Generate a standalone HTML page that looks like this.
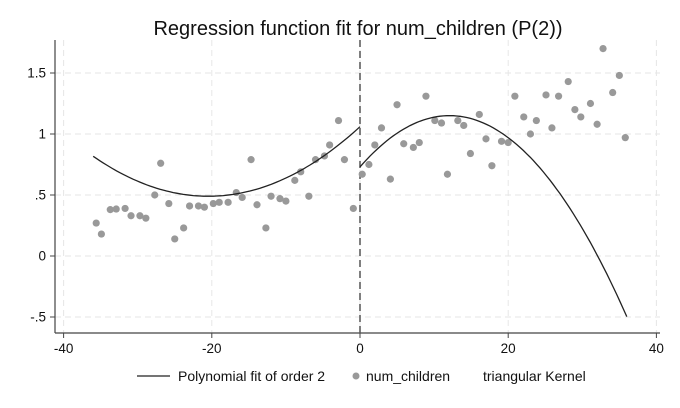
<!DOCTYPE html>
<html><head><meta charset="utf-8"><style>
body{margin:0;background:#fff;}
svg{display:block;font-family:"Liberation Sans",Arial,sans-serif;}
</style></head><body>
<svg id="chart" width="680" height="408" viewBox="0 0 680 408">
<text x="358" y="35" text-anchor="middle" font-size="20" fill="#111">Regression function fit for num_children (P(2))</text>
<g id="grid"></g><g id="axes"></g><g id="pts"></g><g id="fits"></g>
<g>
<line x1="137" y1="376" x2="170" y2="376" stroke="#222" stroke-width="1.2"/>
<text x="178" y="381" font-size="14" fill="#111">Polynomial fit of order 2</text>
<circle cx="356" cy="376" r="3.5" fill="#999"/>
<text x="366" y="381" font-size="14" fill="#111">num_children</text>
<text x="483" y="381" font-size="14" fill="#111">triangular Kernel</text>
</g>
</svg>
<script>
const xs=[-35.6,-34.9,-33.7,-32.9,-31.7,-30.9,-29.7,-28.9,-27.7,-26.9,-25.8,-25,-23.8,-23,-21.8,-21,-19.8,-19,-17.8,-16.7,-15.9,-14.7,-13.9,-12.7,-12,-10.8,-10,-8.8,-8,-6.9,-6,-4.8,-4.1,-2.9,-2.1,-0.9,0.3,1.2,2,2.9,4.1,5,5.9,7.2,8,8.9,10.1,11,11.8,13.2,14,14.9,16.1,17,17.8,19.1,20,20.9,22.1,23,23.8,25.1,25.9,26.8,28.1,29,29.8,31.1,32,32.8,34.1,35,35.8];
const ys=[0.27,0.18,0.38,0.385,0.39,0.33,0.33,0.31,0.5,0.76,0.43,0.14,0.23,0.41,0.41,0.4,0.43,0.44,0.44,0.52,0.48,0.79,0.42,0.23,0.49,0.47,0.45,0.62,0.69,0.49,0.79,0.82,0.91,1.11,0.79,0.39,0.67,0.75,0.91,1.05,0.63,1.24,0.92,0.89,0.93,1.31,1.11,1.09,0.67,1.11,1.07,0.84,1.16,0.96,0.74,0.94,0.93,1.31,1.14,1.0,1.11,1.32,1.05,1.31,1.43,1.2,1.14,1.25,1.08,1.7,1.34,1.48,0.97];
const leftCoef=[1.06,0.0557,0.00136];
const rightCoef=[0.73,0.0696,-0.00288];
const xTicks=[-40,-20,0,20,40];
const yTicks=[-0.5,0,0.5,1,1.5];
const yLabels=["-.5","0",".5","1","1.5"];
const X=v=>360+v*7.41, Y=v=>256-v*122;
const NS="http://www.w3.org/2000/svg";
function mk(t,a,p){const e=document.createElementNS(NS,t);for(const k in a)e.setAttribute(k,a[k]);p.appendChild(e);return e;}
const grid=document.getElementById('grid'),axes=document.getElementById('axes');
xTicks.forEach(t=>{
 const g=mk('line',{x1:X(t),x2:X(t),y1:40,y2:333,stroke:'#e6e6e6','stroke-dasharray':'6 4'},grid);
 
 
 const k=mk('line',{x1:X(t),x2:X(t),y1:333,y2:338,stroke:'#444'},axes);
 
 
 const l=mk('text',{x:X(t),y:353,'text-anchor':'middle','font-size':13.5,fill:'#111'},axes);l.textContent=String(t);
 
 
});
yTicks.forEach((t,i)=>{
 const g=mk('line',{x1:55,x2:660,y1:Y(t),y2:Y(t),stroke:'#e6e6e6','stroke-dasharray':'6 4'},grid);
 
 
 const k=mk('line',{x1:50,x2:55,y1:Y(t),y2:Y(t),stroke:'#444'},axes);
 
 
 const l=mk('text',{x:46,y:Y(t)+4.5,'text-anchor':'end','font-size':13.5,fill:'#111'},axes);l.textContent=yLabels[i];
 
 
});
const xa=mk('line',{x1:55,x2:660,y1:333,y2:333,stroke:'#444','stroke-width':1.2},axes);


const ya=mk('line',{x1:55,x2:55,y1:40,y2:333,stroke:'#444','stroke-width':1.2},axes);


const cut=mk('line',{x1:X(0),x2:X(0),y1:40,y2:333,stroke:'#555','stroke-width':1.5,'stroke-dasharray':'7 4'},axes);


const pts=document.getElementById('pts');
xs.forEach((x,i)=>{
 const c=mk('circle',{cx:X(x),cy:Y(ys[i]),r:3.6,fill:'#999'},pts);
 
 
});
function curve(c,a,b,name){let d='';for(let i=0;i<=80;i++){const x=a+(b-a)*i/80;const y=c[0]+c[1]*x+c[2]*x*x;d+=(i?'L':'M')+X(x).toFixed(1)+' '+Y(y).toFixed(1);}
 const p=mk('path',{d:d,fill:'none',stroke:'#222','stroke-width':1.3},document.getElementById('fits'));
 
 }
curve(leftCoef,-36,0,'left-fit-curve');
curve(rightCoef,0,36,'right-fit-curve');
</script>
</body></html>
